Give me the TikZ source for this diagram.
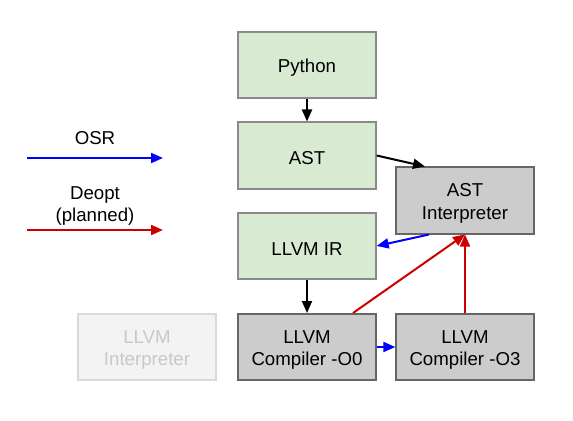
\documentclass[tikz,border=0pt]{standalone}
\usepackage{fontspec}
\setmainfont{Liberation Sans}
\usetikzlibrary{arrows.meta,calc}
\definecolor{gfill}{HTML}{D9EAD3}
\definecolor{gdraw}{HTML}{8A8A8A}
\definecolor{kfill}{HTML}{CCCCCC}
\definecolor{kdraw}{HTML}{666666}
\definecolor{ffill}{HTML}{F3F3F3}
\definecolor{fdraw}{HTML}{D9D9D9}
\definecolor{ftext}{HTML}{C8C8C8}
\definecolor{osrblue}{HTML}{0000FF}
\definecolor{deoptred}{HTML}{CC0000}
\tikzset{
  boxtext/.style={align=center, inner sep=0pt, yshift=-2.2pt, font=\fontsize{14}{16.9}\selectfont},
  box/.style={rectangle, minimum width=103pt, minimum height=49.5pt, inner sep=0pt, line width=1.5pt},
  greenbox/.style={box, fill=gfill, draw=gdraw, label={[boxtext]center:#1}},
  graybox/.style={box, fill=kfill, draw=kdraw, label={[boxtext]center:#1}},
  fadedbox/.style={box, fill=ffill, draw=fdraw, label={[boxtext, text=ftext]center:#1}},
  conn/.style={line width=1.5pt, -{Triangle[length=9pt,width=7.5pt]}},
  legendtext/.style={font=\fontsize{14}{16.9}\selectfont, align=center, inner sep=0pt}
}
\begin{document}
\begin{tikzpicture}[x=0.75pt,y=-0.75pt]
\useasboundingbox (0,0) rectangle (573,420);
\node[greenbox={Python}] (py) at (307,65) {};
\node[greenbox={AST}] (ast) at (307,155.5) {};
\node[greenbox={LLVM IR}] (ir) at (307,246) {};
\node[graybox={AST\\Interpreter}] (interp) at (465,200.5) {};
\node[graybox={LLVM\\Compiler -O0}] (o0) at (307,347) {};
\node[graybox={LLVM\\Compiler -O3}] (o3) at (465,347) {};
\node[fadedbox={LLVM\\Interpreter}] (llint) at (147,347) {};
% legend
\coordinate (osrA) at (27,158);
\coordinate (osrB) at (163,158);
\coordinate (deA) at (27,230);
\coordinate (deB) at (163,230);
\node[legendtext] (osrlbl) at (95,138) {OSR};
\node[legendtext] (delbl) at (95,206) {Deopt\\(planned)};
\draw[conn, osrblue] (osrA) -- (osrB);
\draw[conn, deoptred] (deA) -- (deB);
% connectors
\draw[conn] (py.south) -- (ast.north);
\draw[conn] (ast.east) -- ($(interp.north)+(-40,0)$);
\draw[conn] (ir.south) -- (o0.north);
\draw[conn, osrblue] ($(interp.south)+(-36,0)$) -- (ir.east);
\draw[conn, osrblue] (o0.east) -- (o3.west);
\draw[conn, deoptred] ($(o0.north)+(46,0)$) -- (interp.south);
\draw[conn, deoptred] (o3.north) -- (interp.south);
\end{tikzpicture}
\end{document}
